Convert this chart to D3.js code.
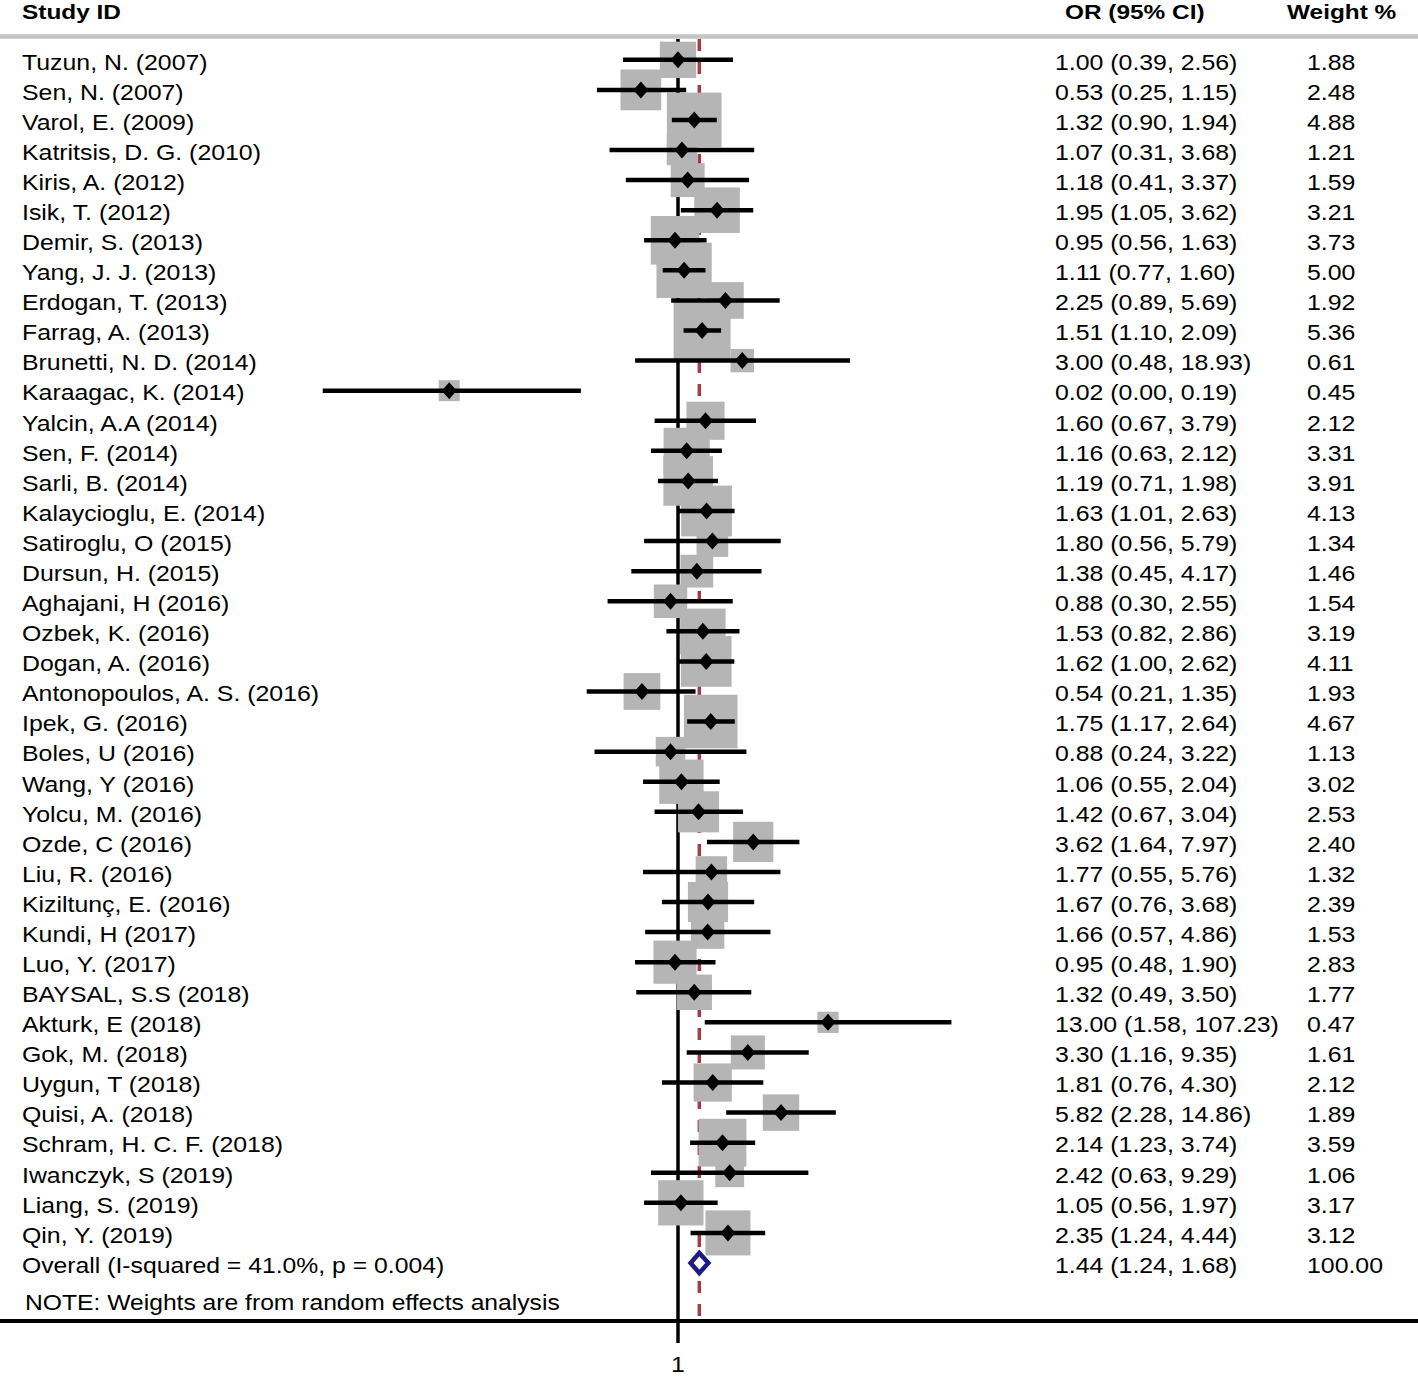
<!DOCTYPE html>
<html>
<head>
<meta charset="utf-8">
<script src="https://d3js.org/d3.v7.min.js"></script>
<style>
html,body{margin:0;padding:0;background:#fff;}
svg{display:block;}
text{font-family:"Liberation Sans",Arial,Helvetica,sans-serif;fill:#000;}
</style>
</head>
<body>
<script>
const studies = ["Tuzun, N. (2007)","Sen, N. (2007)","Varol, E. (2009)","Katritsis, D. G. (2010)","Kiris, A. (2012)","Isik, T. (2012)","Demir, S. (2013)","Yang, J. J. (2013)","Erdogan, T. (2013)","Farrag, A. (2013)","Brunetti, N. D. (2014)","Karaagac, K. (2014)","Yalcin, A.A (2014)","Sen, F. (2014)","Sarli, B. (2014)","Kalaycioglu, E. (2014)","Satiroglu, O (2015)","Dursun, H. (2015)","Aghajani, H (2016)","Ozbek, K. (2016)","Dogan, A. (2016)","Antonopoulos, A. S. (2016)","Ipek, G. (2016)","Boles, U (2016)","Wang, Y (2016)","Yolcu, M. (2016)","Ozde, C (2016)","Liu, R. (2016)","Kiziltunç, E. (2016)","Kundi, H (2017)","Luo, Y. (2017)","BAYSAL, S.S (2018)","Akturk, E (2018)","Gok, M. (2018)","Uygun, T (2018)","Quisi, A. (2018)","Schram, H. C. F. (2018)","Iwanczyk, S (2019)","Liang, S. (2019)","Qin, Y. (2019)"];
const orValues = [1.00,0.53,1.32,1.07,1.18,1.95,0.95,1.11,2.25,1.51,3.00,0.02,1.60,1.16,1.19,1.63,1.80,1.38,0.88,1.53,1.62,0.54,1.75,0.88,1.06,1.42,3.62,1.77,1.67,1.66,0.95,1.32,13.00,3.30,1.81,5.82,2.14,2.42,1.05,2.35];
const lowerCI = [0.39,0.25,0.90,0.31,0.41,1.05,0.56,0.77,0.89,1.10,0.48,0.0023,0.67,0.63,0.71,1.01,0.56,0.45,0.30,0.82,1.00,0.21,1.17,0.24,0.55,0.67,1.64,0.55,0.76,0.57,0.48,0.49,1.58,1.16,0.76,2.28,1.23,0.63,0.56,1.24];
const upperCI = [2.56,1.15,1.94,3.68,3.37,3.62,1.63,1.60,5.69,2.09,18.93,0.19,3.79,2.12,1.98,2.63,5.79,4.17,2.55,2.86,2.62,1.35,2.64,3.22,2.04,3.04,7.97,5.76,3.68,4.86,1.90,3.50,107.23,9.35,4.30,14.86,3.74,9.29,1.97,4.44];
const weights = [1.88,2.48,4.88,1.21,1.59,3.21,3.73,5.00,1.92,5.36,0.61,0.45,2.12,3.31,3.91,4.13,1.34,1.46,1.54,3.19,4.11,1.93,4.67,1.13,3.02,2.53,2.40,1.32,2.39,1.53,2.83,1.77,0.47,1.61,2.12,1.89,3.59,1.06,3.17,3.12];
const overallLabel = "Overall (I-squared = 41.0%, p = 0.004)";
const overall = {or:1.44, lo:1.24, hi:1.68, weight:100.00};
const noteText = "NOTE: Weights are from random effects analysis";
const headers = ["Study ID","OR (95% CI)","Weight %"];
const xTicks = [1];

const W = 1418, H = 1378;
const svg = d3.select("body").append("svg").attr("width",W).attr("height",H);

const x = d3.scaleLog().domain([0.001,1000]).range([274,1082]);
const nRows = studies.length + 1;
const y = d3.scalePoint().domain(d3.range(nRows)).range([59.8,1263]);
const boxSide = d3.scaleSqrt().domain([0,1]).range([0,21.9]);
const boxPad = 6.3;
const f2 = d3.format(".2f");
const FS = 22.5, SX = 1.105;

function txt(g, s, tx, ty, opts){
  opts = opts || {};
  return g.append("text")
    .attr("transform",`translate(${tx},${ty}) scale(${opts.sx||SX},1)`)
    .attr("font-size",opts.fs||FS)
    .attr("font-weight",opts.bold?"bold":"normal")
    .attr("text-anchor",opts.anchor||"start")
    .text(s);
}

// header
const hg = svg.append("g");
const hOpts = {bold:true, fs:20, sx:1.22};
txt(hg, headers[0], 22, 18.5, hOpts);
txt(hg, headers[1], 1065, 18.5, hOpts);
txt(hg, headers[2], 1287, 18.5, hOpts);
svg.append("line").attr("x1",0).attr("x2",W).attr("y1",36.5).attr("y2",36.5)
  .attr("stroke","#c4c4c4").attr("stroke-width",4.5);

const axisY = 1321;
// null line
svg.append("line").attr("x1",x(1)).attr("x2",x(1)).attr("y1",39).attr("y2",axisY)
  .attr("stroke","#000").attr("stroke-width",3.5);
// overall dashed line
svg.append("line").attr("x1",x(overall.or)).attr("x2",x(overall.or)).attr("y1",39).attr("y2",axisY)
  .attr("stroke","#a33c48").attr("stroke-width",3.5).attr("stroke-dasharray","12,11");

const rows = studies.map((s,i)=>({s, or:orValues[i], lo:lowerCI[i], hi:upperCI[i], w:weights[i], i}));

// boxes
svg.append("g").selectAll("rect").data(rows).join("rect")
  .attr("x",d=>x(d.or)-(boxSide(d.w)+boxPad)/2)
  .attr("y",d=>y(d.i)-(boxSide(d.w)+boxPad)/2)
  .attr("width",d=>boxSide(d.w)+boxPad)
  .attr("height",d=>boxSide(d.w)+boxPad)
  .attr("fill","#b5b5b5");

// CI lines
svg.append("g").selectAll("line").data(rows).join("line")
  .attr("x1",d=>x(d.lo)).attr("x2",d=>x(d.hi))
  .attr("y1",d=>y(d.i)).attr("y2",d=>y(d.i))
  .attr("stroke","#000").attr("stroke-width",4.5);

// point diamonds
svg.append("g").selectAll("path").data(rows).join("path")
  .attr("d",d=>{const cx=x(d.or), cy=y(d.i); return `M${cx-7.5},${cy}L${cx},${cy-8.5}L${cx+7.5},${cy}L${cx},${cy+8.5}Z`;})
  .attr("fill","#000");

// overall diamond
const oy = y(nRows-1);
svg.append("path")
  .attr("d",`M${x(overall.lo)},${oy}L${x(overall.or)},${oy-10}L${x(overall.hi)},${oy}L${x(overall.or)},${oy+10}Z`)
  .attr("fill","#fff").attr("stroke","#1c1c82").attr("stroke-width",4.5).attr("stroke-linejoin","miter");

// row texts
const tg = svg.append("g");
rows.forEach(d=>{
  const by = y(d.i)+9.8;
  txt(tg, d.s, 22, by);
  txt(tg, `${f2(d.or)} (${f2(d.lo)}, ${f2(d.hi)})`, 1055, by);
  txt(tg, f2(d.w), 1307, by);
});
{
  const by = oy+9.8;
  txt(tg, overallLabel, 22, by, {sx:1.1});
  txt(tg, `${f2(overall.or)} (${f2(overall.lo)}, ${f2(overall.hi)})`, 1055, by);
  txt(tg, f2(overall.weight), 1307, by);
}
txt(tg, noteText, 25, 1310, {sx:1.096});

// x axis
svg.append("line").attr("x1",0).attr("x2",W).attr("y1",axisY).attr("y2",axisY)
  .attr("stroke","#000").attr("stroke-width",4);
const ag = svg.append("g");
xTicks.forEach(t=>{
  ag.append("line").attr("x1",x(t)).attr("x2",x(t)).attr("y1",axisY).attr("y2",1343)
    .attr("stroke","#000").attr("stroke-width",3.5);
  txt(ag, String(t), x(t), 1372, {anchor:"middle"});
});
</script>
</body>
</html>
